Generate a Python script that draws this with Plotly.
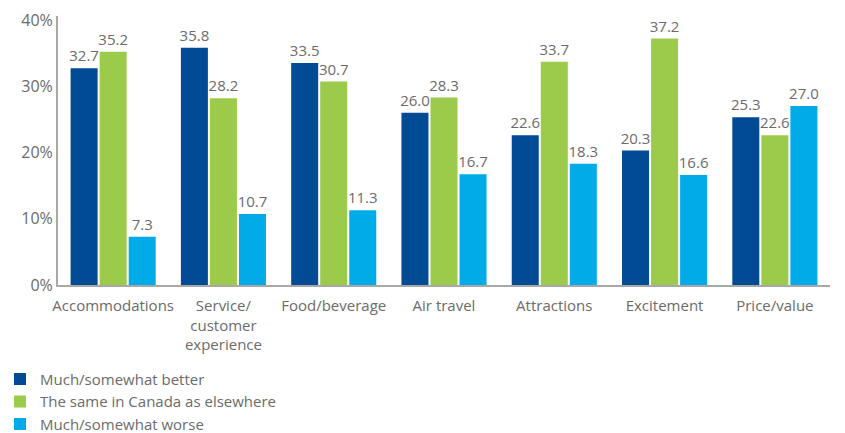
import plotly.graph_objects as go

categories = ["Accommodations", "Service/<br>customer<br>experience", "Food/beverage",
              "Air travel", "Attractions", "Excitement", "Price/value"]
better = [32.7, 35.8, 33.5, 26.0, 22.6, 20.3, 25.3]
same = [35.2, 28.2, 30.7, 28.3, 33.7, 37.2, 22.6]
worse = [7.3, 10.7, 11.3, 16.7, 18.3, 16.6, 27.0]

series = [
    ("Much/somewhat better", better, "#004B93"),
    ("The same in Canada as elsewhere", same, "#9CCA4B"),
    ("Much/somewhat worse", worse, "#00ABE7"),
]

grey = "#6b6b6b"
font_family = "Open Sans, Noto Sans, sans-serif"

fig = go.Figure()
for name, vals, color in series:
    fig.add_trace(go.Bar(
        x=categories, y=vals, name=name,
        marker=dict(color=color, line=dict(width=0)),
        text=[f"{v:.1f}" for v in vals],
        textposition="outside",
        textfont=dict(color=grey, size=15, family=font_family),
        cliponaxis=False,
    ))

fig.update_layout(
    width=845, height=433,
    margin=dict(l=58, r=15, t=16, b=148, autoexpand=False),
    paper_bgcolor="white", plot_bgcolor="white",
    barmode="group", bargap=0.21, bargroupgap=0.07,
    font=dict(family=font_family, color=grey, size=15),
    showlegend=True,
    legend=dict(
        xref="container", yref="container",
        x=0, y=0.162, xanchor="left", yanchor="top",
        orientation="v", font=dict(size=15, color=grey),
        itemsizing="constant", tracegroupgap=0,
        bgcolor="rgba(0,0,0,0)",
    ),
    uniformtext=dict(minsize=15, mode="show"),
)
fig.update_xaxes(
    showline=True, linecolor="#a8a8a8", linewidth=2, tickangle=0,
    ticks="", showgrid=False, tickfont=dict(size=15, color=grey),
    ticklabelstandoff=6,
)
fig.update_yaxes(
    range=[0, 40.6], tickvals=[0, 10, 20, 30, 40],
    ticktext=["0%", "10%", "20%", "30%", "40%"],
    showline=True, linecolor="#a8a8a8", linewidth=2,
    showgrid=False, zeroline=False, ticks="",
    tickfont=dict(size=16, color=grey),
)

fig.write_html("out.html")
